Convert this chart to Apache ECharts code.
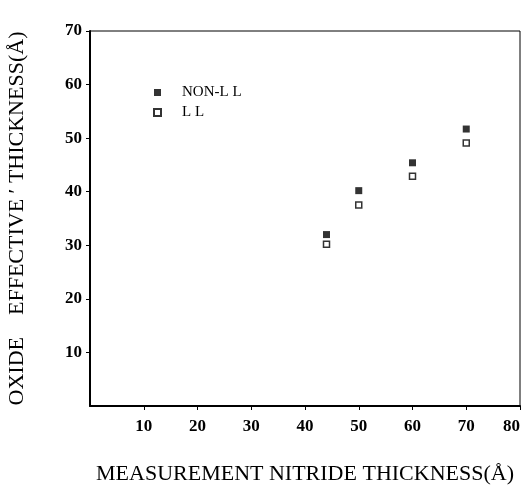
<!DOCTYPE html>
<html>
<head>
<meta charset="utf-8">
<script src="https://cdn.jsdelivr.net/npm/echarts@6/dist/echarts.min.js"></script>
<style>
  html, body { margin: 0; padding: 0; background: #fff; }
  #chart { width: 523px; height: 485px; }
</style>
</head>
<body>
<div id="chart"></div>
<script>
// measured nitride thickness (A)
const nitride = [44, 50, 60, 70];
// effective oxide thickness (A)
const nonLL = [32, 40.2, 45.4, 51.7];
const ll = [30.2, 37.5, 42.9, 49.1];
const seriesNames = ["NON-L L", "L L"];

const serif = "Liberation Serif, DejaVu Serif, serif";

function pairs(xs, ys) {
  return xs.map((x, i) => [x, ys[i]]);
}

const chart = echarts.init(document.getElementById("chart"));

const option = {
  backgroundColor: "#fff",
  animation: false,
  grid: {
    left: 90,
    right: 3,
    top: 31,
    bottom: 79,
    outerBoundsMode: "none",
    show: true,
    borderColor: "#000",
    borderWidth: 1,
  },
  legend: {
    orient: "vertical",
    left: 148,
    top: 80,
    itemWidth: 7,
    itemHeight: 7,
    itemGap: 5,
    textStyle: { fontFamily: serif, fontSize: 15, color: "#000", padding: [0, 0, 0, 16] },
    data: [
      { name: seriesNames[0], icon: "rect" },
      { name: seriesNames[1], icon: "rect" },
    ],
  },
  xAxis: {
    type: "value",
    min: 0,
    max: 80,
    interval: 10,
    name: "MEASUREMENT NITRIDE THICKNESS(Å)",
    nameLocation: "middle",
    nameGap: 57,
    nameTextStyle: { fontFamily: serif, fontSize: 22, color: "#000" },
    axisLine: { onZero: false, lineStyle: { color: "#000", width: 2 } },
    axisTick: { length: 4, lineStyle: { color: "#000" } },
    axisLabel: {
      showMinLabel: false,
      alignMaxLabel: "right",
      fontFamily: serif,
      fontWeight: "bold",
      fontSize: 17,
      color: "#000",
      margin: 12,
    },
    splitLine: { show: false },
  },
  yAxis: {
    type: "value",
    min: 0,
    max: 70,
    interval: 10,
    name: "OXIDE    EFFECTIVE ′ THICKNESS(Å)",
    nameLocation: "middle",
    nameGap: 62,
    nameTextStyle: { fontFamily: serif, fontSize: 22, color: "#000" },
    axisLine: { onZero: false, lineStyle: { color: "#000", width: 2 } },
    axisTick: { length: 4, lineStyle: { color: "#000" } },
    axisLabel: {
      showMinLabel: false,
      fontFamily: serif,
      fontWeight: "bold",
      fontSize: 17,
      color: "#000",
      margin: 8,
    },
    splitLine: { show: false },
  },
  series: [
    {
      name: seriesNames[0],
      type: "scatter",
      symbol: "rect",
      symbolSize: 7,
      itemStyle: { color: "#000" },
      data: pairs(nitride, nonLL),
    },
    {
      name: seriesNames[1],
      type: "scatter",
      symbol: "rect",
      symbolSize: 6,
      itemStyle: { color: "#fff", borderColor: "#000", borderWidth: 1.5 },
      data: pairs(nitride, ll),
    },
  ],
};

chart.setOption(option);
</script>
</body>
</html>
